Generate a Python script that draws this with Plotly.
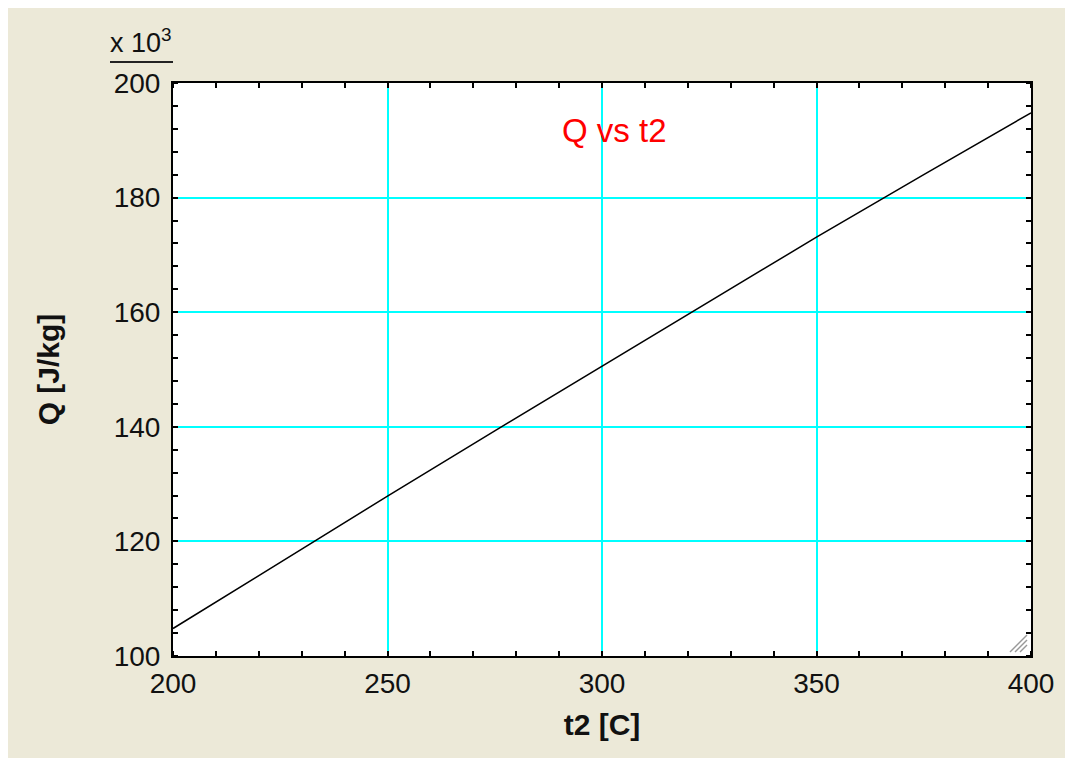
import plotly.graph_objects as go

# Data
t2 = [200, 225, 250, 275, 300, 325, 350, 375, 400]
Q = [104800, 116400, 127900, 139300, 150600, 161900, 173100, 184000, 194800]  # J/kg
Q_thousands = [v / 1000 for v in Q]

x_ticks = [200, 250, 300, 350, 400]
y_ticks = [100, 120, 140, 160, 180, 200]

# page has an 8px body margin, so the figure is 1065x750
W, H = 1065, 750
OFF = 8
L, R, T, B = 165, 1023, 75, 648
pw, ph = R - L, B - T

def px(sx):
    return (sx - OFF - L) / pw

def py(sy):
    return (B - (sy - OFF)) / ph

BEIGE = "#ECE9D8"
FONT = "Liberation Sans, Arial, sans-serif"
TXT = "#111111"

fig = go.Figure()
fig.add_trace(go.Scatter(x=t2, y=Q_thousands, mode="lines",
                         line=dict(color="black", width=1.5), showlegend=False,
                         hoverinfo="skip"))

axis_common = dict(
    showline=True, linecolor="black", linewidth=2, mirror="allticks",
    showgrid=True, gridcolor="#00FFFF", gridwidth=2,
    ticks="", zeroline=False,
    tickfont=dict(family=FONT, size=28, color=TXT),
)

fig.update_xaxes(
    range=[200, 400], tickvals=x_ticks, **axis_common,
    minor=dict(dtick=10, ticks="inside", ticklen=5, tickcolor="black", tickwidth=1.5, showgrid=False),
    title=dict(text="<b>t2 [C]</b>", font=dict(family=FONT, size=30, color=TXT), standoff=16),
    ticklabelstandoff=1,
)
fig.update_yaxes(
    range=[100, 200], tickvals=y_ticks, **axis_common,
    minor=dict(dtick=4, ticks="inside", ticklen=5, tickcolor="black", tickwidth=1.5, showgrid=False),
    title=dict(text="<b>Q [J/kg]</b>", font=dict(family=FONT, size=30, color=TXT), standoff=45),
    ticklabelstandoff=5,
)

shapes = [
    # line under the multiplier label
    dict(type="line", xref="paper", yref="paper", x0=px(110), x1=px(173), y0=py(62), y1=py(62),
         line=dict(color="#222222", width=2)),
]
# resize grip decoration
for off in [0, 5, 10]:
    shapes.append(dict(type="line", xref="paper", yref="paper",
                       x0=px(1010 + off), y0=py(652), x1=px(1027), y1=py(635 + off),
                       line=dict(color="#999999", width=1.5)))

fig.update_layout(
    width=W, height=H,
    margin=dict(l=L, r=W - R, t=T, b=H - B),
    paper_bgcolor=BEIGE, plot_bgcolor="white",
    font=dict(family=FONT),
    shapes=shapes,
    annotations=[
        dict(text="x 10<sup>3</sup>", xref="paper", yref="paper", x=px(108), y=py(60),
             xanchor="left", yanchor="bottom", showarrow=False,
             font=dict(family=FONT, size=27, color=TXT)),
        dict(text="Q vs t2", xref="paper", yref="paper", x=px(614), y=py(130),
             xanchor="center", yanchor="middle", showarrow=False,
             font=dict(family=FONT, size=33, color="#FF0000")),
    ],
)

fig.write_html("out.html")
